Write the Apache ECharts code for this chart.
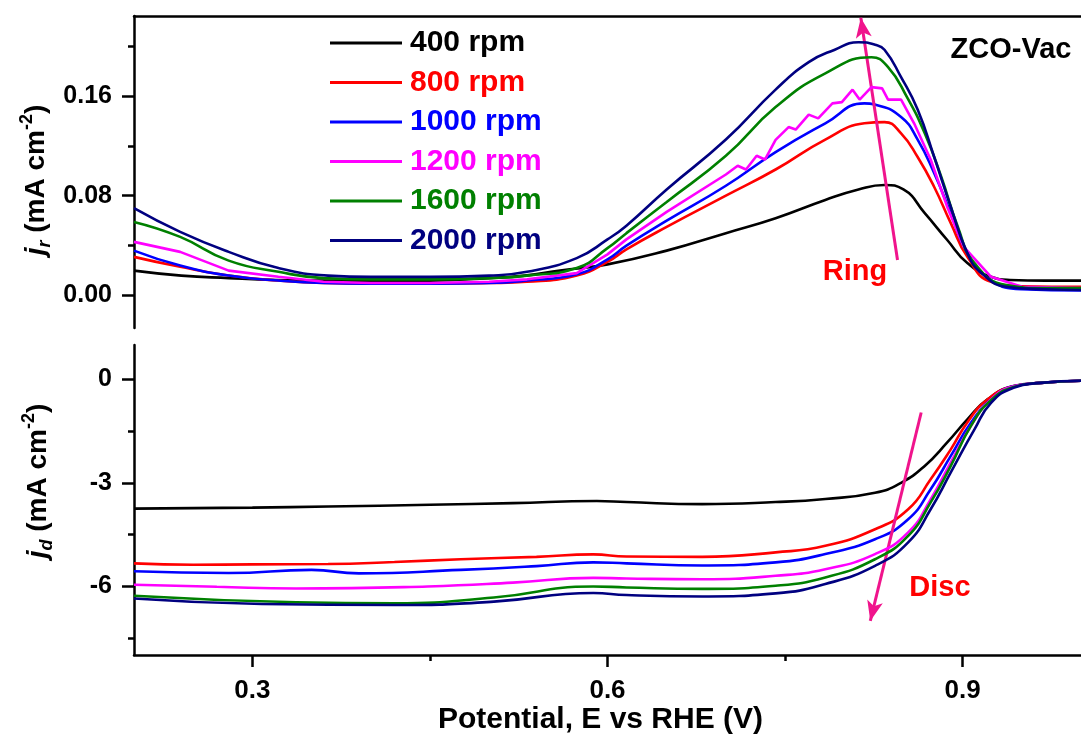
<!DOCTYPE html>
<html>
<head>
<meta charset="utf-8">
<script src="https://cdn.jsdelivr.net/npm/echarts@6/dist/echarts.min.js"></script>
<style>
html,body{margin:0;padding:0;background:#fff;}
#chart{width:1081px;height:745px;}
</style>
</head>
<body>
<div id="chart"></div>
<script>
// ---- data ----
const seriesNames = ['400 rpm','800 rpm','1000 rpm','1200 rpm','1600 rpm','2000 rpm'];
const seriesColors = ['#000000','#FF0000','#0000FF','#FF00FF','#008000','#000080'];

// Ring current j_r (mA cm-2) vs potential E (V)
const ring400 = [[0.20,0.020],[0.24,0.016],[0.28,0.014],[0.32,0.0125],[0.36,0.012],[0.40,0.0118],[0.45,0.012],[0.50,0.014],[0.53,0.016],[0.56,0.020],[0.60,0.025],[0.65,0.036],[0.70,0.050],[0.742,0.062],[0.784,0.0766],[0.812,0.085],[0.834,0.0886],[0.85,0.085],[0.868,0.066],[0.887,0.0445],[0.904,0.026],[0.924,0.015],[0.94,0.0125],[0.97,0.012],[1.0,0.012]];
const ring800 = [[0.20,0.031],[0.239,0.023],[0.28,0.016],[0.322,0.012],[0.36,0.010],[0.40,0.0095],[0.45,0.0095],[0.50,0.010],[0.532,0.011],[0.574,0.016],[0.60,0.027],[0.616,0.037],[0.65,0.055],[0.70,0.080],[0.742,0.101],[0.784,0.125],[0.817,0.138],[0.834,0.139],[0.848,0.130],[0.862,0.111],[0.876,0.087],[0.890,0.058],[0.904,0.031],[0.924,0.011],[0.95,0.0075],[1.0,0.007]];
const ring1000 = [[0.20,0.036],[0.239,0.024],[0.28,0.016],[0.322,0.012],[0.36,0.010],[0.40,0.0095],[0.45,0.0095],[0.50,0.010],[0.532,0.012],[0.574,0.017],[0.60,0.029],[0.616,0.040],[0.65,0.060],[0.70,0.088],[0.742,0.115],[0.784,0.138],[0.817,0.154],[0.826,0.153],[0.848,0.143],[0.862,0.125],[0.876,0.098],[0.890,0.066],[0.904,0.034],[0.924,0.0124],[0.95,0.005],[1.0,0.004]];
const ring1200 = [[0.20,0.043],[0.239,0.035],[0.28,0.020],[0.322,0.015],[0.36,0.011],[0.40,0.010],[0.45,0.010],[0.50,0.011],[0.532,0.013],[0.574,0.018],[0.60,0.033],[0.616,0.045],[0.65,0.067],[0.70,0.097],[0.71,0.104],[0.717,0.101],[0.726,0.112],[0.733,0.109],[0.742,0.1247],[0.753,0.135],[0.759,0.133],[0.770,0.145],[0.778,0.142],[0.790,0.154],[0.798,0.155],[0.807,0.165],[0.813,0.157],[0.823,0.167],[0.832,0.166],[0.837,0.157],[0.848,0.157],[0.859,0.138],[0.873,0.109],[0.887,0.071],[0.901,0.039],[0.924,0.015],[0.95,0.007],[1.0,0.006]];
const ring1600 = [[0.20,0.059],[0.239,0.047],[0.28,0.028],[0.322,0.019],[0.36,0.014],[0.40,0.013],[0.45,0.013],[0.50,0.014],[0.532,0.016],[0.574,0.022],[0.60,0.038],[0.616,0.050],[0.65,0.075],[0.70,0.112],[0.742,0.151],[0.784,0.178],[0.823,0.191],[0.837,0.183],[0.853,0.159],[0.868,0.130],[0.882,0.095],[0.896,0.055],[0.910,0.026],[0.937,0.0084],[0.97,0.006],[1.0,0.006]];
const ring2000 = [[0.20,0.070],[0.239,0.051],[0.28,0.035],[0.322,0.022],[0.364,0.016],[0.40,0.015],[0.45,0.015],[0.50,0.016],[0.532,0.019],[0.574,0.030],[0.60,0.045],[0.616,0.056],[0.65,0.085],[0.70,0.125],[0.742,0.165],[0.770,0.187],[0.792,0.197],[0.812,0.203],[0.826,0.201],[0.834,0.197],[0.848,0.175],[0.862,0.149],[0.876,0.111],[0.890,0.071],[0.904,0.034],[0.916,0.018],[0.937,0.007],[0.97,0.005],[1.0,0.0044]];

// Disc current j_d (mA cm-2) vs potential E (V)
const disc400 = [[0.20,-3.75],[0.30,-3.72],[0.364,-3.69],[0.45,-3.64],[0.52,-3.59],[0.591,-3.53],[0.616,-3.56],[0.68,-3.62],[0.742,-3.56],[0.784,-3.47],[0.826,-3.29],[0.848,-3.0],[0.868,-2.51],[0.887,-1.83],[0.904,-1.16],[0.921,-0.58],[0.943,-0.19],[0.966,-0.10],[1.0,-0.04]];
const disc800 = [[0.20,-5.34],[0.25,-5.38],[0.30,-5.37],[0.364,-5.36],[0.42,-5.30],[0.476,-5.22],[0.54,-5.15],[0.588,-5.08],[0.616,-5.14],[0.68,-5.15],[0.742,-5.02],[0.784,-4.83],[0.826,-4.35],[0.854,-3.77],[0.873,-2.90],[0.890,-2.03],[0.904,-1.25],[0.921,-0.58],[0.943,-0.20],[0.966,-0.10],[1.0,-0.04]];
const disc1000 = [[0.20,-5.57],[0.28,-5.62],[0.35,-5.53],[0.39,-5.63],[0.476,-5.53],[0.54,-5.42],[0.588,-5.31],[0.616,-5.34],[0.68,-5.40],[0.742,-5.31],[0.784,-5.07],[0.826,-4.64],[0.854,-4.06],[0.873,-3.19],[0.890,-2.22],[0.907,-1.26],[0.924,-0.58],[0.943,-0.20],[0.966,-0.10],[1.0,-0.04]];
const disc1200 = [[0.20,-5.96],[0.27,-6.02],[0.337,-6.07],[0.448,-6.01],[0.52,-5.90],[0.588,-5.76],[0.616,-5.78],[0.68,-5.80],[0.742,-5.70],[0.784,-5.51],[0.826,-5.07],[0.854,-4.44],[0.873,-3.48],[0.890,-2.41],[0.907,-1.35],[0.924,-0.58],[0.943,-0.20],[0.966,-0.10],[1.0,-0.04]];
const disc1600 = [[0.20,-6.28],[0.337,-6.47],[0.42,-6.50],[0.504,-6.33],[0.588,-6.01],[0.616,-6.04],[0.68,-6.08],[0.742,-5.99],[0.784,-5.75],[0.826,-5.22],[0.854,-4.54],[0.873,-3.57],[0.890,-2.51],[0.907,-1.35],[0.924,-0.60],[0.943,-0.22],[0.966,-0.10],[1.0,-0.04]];
const disc2000 = [[0.20,-6.36],[0.308,-6.52],[0.42,-6.55],[0.504,-6.45],[0.588,-6.20],[0.616,-6.26],[0.68,-6.30],[0.742,-6.21],[0.784,-5.94],[0.826,-5.41],[0.854,-4.73],[0.873,-3.77],[0.890,-2.70],[0.910,-1.45],[0.924,-0.68],[0.943,-0.24],[0.966,-0.10],[1.0,-0.04]];

// tick values
const xMajorTicks = [0.3, 0.6, 0.9];
const xMinorTicks = [0.45, 0.75];
const ringMajorTicks = [0, 0.08, 0.16];
const ringMinorTicks = [0.04, 0.12, 0.20];
const discMajorTicks = [-6, -3, 0];
const discMinorTicks = [-7.5, -4.5, -1.5];

// arrow annotations (data coords: [E, j])
const ringArrow = [[0.845, 0.0285], [0.814, 0.2226]];
const discArrow = [[0.865, -0.96], [0.822, -7.01]];

// ---- chart ----
const FONT = '"Liberation Sans", Arial, sans-serif';
const ringData = [ring400, ring800, ring1000, ring1200, ring1600, ring2000];
const discData = [disc400, disc800, disc1000, disc1200, disc1600, disc2000];
const PINK = '#F0148C';

const chart = echarts.init(document.getElementById('chart'), null, {renderer: 'canvas'});

const xRange = {min: 0.2, max: 1.0};
const ringRange = {min: -0.026, max: 0.224};
const discRange = {min: -8, max: 1};

function arrowLine(pts) {
  return {
    silent: true,
    animation: false,
    symbol: ['none', 'arrow'],
    symbolSize: [12, 20],
    label: {show: false},
    lineStyle: {color: PINK, width: 3, type: 'solid'},
    emphasis: {disabled: true},
    data: [[{coord: pts[0]}, {coord: pts[1]}]]
  };
}

const series = [];
ringData.forEach((d, i) => {
  const s = {
    name: seriesNames[i], type: 'line', xAxisIndex: 0, yAxisIndex: 0,
    data: d, showSymbol: false, symbol: 'none',
    smooth: i === 3 ? false : 0.5,
    lineStyle: {color: seriesColors[i], width: 2.6},
    itemStyle: {color: seriesColors[i]},
    emphasis: {disabled: true}, animation: false, z: 2 + i
  };
  if (i === 5) s.markLine = arrowLine(ringArrow);
  series.push(s);
});
discData.forEach((d, i) => {
  const s = {
    name: seriesNames[i], type: 'line', xAxisIndex: 1, yAxisIndex: 2,
    data: d, showSymbol: false, symbol: 'none',
    smooth: 0.5,
    lineStyle: {color: seriesColors[i], width: 2.6},
    itemStyle: {color: seriesColors[i]},
    emphasis: {disabled: true}, animation: false, z: 2 + i
  };
  if (i === 5) s.markLine = arrowLine(discArrow);
  series.push(s);
});

const axisLineStyle = {color: '#000', width: 2.5};
const labelStyle = {color: '#000', fontFamily: FONT, fontWeight: 'bold', fontSize: 25};

const option = {
  backgroundColor: '#fff',
  animation: false,
  textStyle: {fontFamily: FONT},
  grid: [
    {left: 134, right: -7, top: 16, height: 312, containLabel: false},
    {left: 134, right: -7, top: 345, height: 310, containLabel: false}
  ],
  xAxis: [
    {type: 'value', gridIndex: 0, position: 'top', min: xRange.min, max: xRange.max,
     axisLine: {show: true, onZero: false, lineStyle: axisLineStyle},
     axisTick: {show: false}, axisLabel: {show: false}, splitLine: {show: false}},
    {type: 'value', gridIndex: 1, position: 'bottom', min: xRange.min, max: xRange.max,
     axisLine: {show: true, onZero: false, lineStyle: axisLineStyle},
     axisTick: {show: true, inside: false, length: 12, customValues: xMajorTicks, lineStyle: {color: '#000', width: 2.5}},
     axisLabel: Object.assign({show: true, margin: 23, customValues: xMajorTicks, formatter: v => v.toFixed(1)}, labelStyle, {fontSize: 26}),
     splitLine: {show: false},
     name: 'Potential, E vs RHE (V)', nameLocation: 'middle', nameGap: 46,
     nameTextStyle: {color: '#000', fontFamily: FONT, fontWeight: 'bold', fontSize: 30, padding: [0, 14, 0, 0]}},
    {type: 'value', gridIndex: 1, position: 'bottom', min: xRange.min, max: xRange.max,
     axisLine: {show: false, onZero: false},
     axisTick: {show: true, inside: false, length: 6, customValues: xMinorTicks, lineStyle: {color: '#000', width: 2.5}},
     axisLabel: {show: false}, splitLine: {show: false}}
  ],
  yAxis: [
    {type: 'value', gridIndex: 0, min: ringRange.min, max: ringRange.max, position: 'left',
     axisLine: {show: true, onZero: false, lineStyle: axisLineStyle},
     axisTick: {show: true, inside: false, length: 12, customValues: ringMajorTicks, lineStyle: {color: '#000', width: 2.5}},
     axisLabel: Object.assign({show: true, margin: 22, customValues: ringMajorTicks, formatter: v => v.toFixed(2)}, labelStyle),
     splitLine: {show: false}},
    {type: 'value', gridIndex: 0, min: ringRange.min, max: ringRange.max, position: 'left',
     axisLine: {show: false, onZero: false},
     axisTick: {show: true, inside: false, length: 6, customValues: ringMinorTicks, lineStyle: {color: '#000', width: 2.5}},
     axisLabel: {show: false}, splitLine: {show: false}},
    {type: 'value', gridIndex: 1, min: discRange.min, max: discRange.max, position: 'left',
     axisLine: {show: true, onZero: false, lineStyle: axisLineStyle},
     axisTick: {show: true, inside: false, length: 12, customValues: discMajorTicks, lineStyle: {color: '#000', width: 2.5}},
     axisLabel: Object.assign({show: true, margin: 22, customValues: discMajorTicks, formatter: v => String(v)}, labelStyle),
     splitLine: {show: false}},
    {type: 'value', gridIndex: 1, min: discRange.min, max: discRange.max, position: 'left',
     axisLine: {show: false, onZero: false},
     axisTick: {show: true, inside: false, length: 6, customValues: discMinorTicks, lineStyle: {color: '#000', width: 2.5}},
     axisLabel: {show: false}, splitLine: {show: false}}
  ],
  legend: {
    show: true, orient: 'vertical', left: 330, top: 28, padding: 0,
    icon: 'rect', itemWidth: 72, itemHeight: 3, itemGap: 9.5,
    selectedMode: false,
    textStyle: {fontFamily: FONT, fontWeight: 'bold', fontSize: 30, lineHeight: 30, padding: [0, 0, 0, 3]},
    data: seriesNames.map((n, i) => ({name: n, textStyle: {color: seriesColors[i]}, itemStyle: {color: seriesColors[i]}}))
  },
  graphic: [
    {type: 'text', x: 1011, y: 50, silent: true,
     style: {text: 'ZCO-Vac', fill: '#000', font: 'bold 29px ' + FONT, align: 'center', verticalAlign: 'middle'}},
    {type: 'text', x: 855, y: 272, silent: true,
     style: {text: 'Ring', fill: '#FF0000', font: 'bold 29px ' + FONT, align: 'center', verticalAlign: 'middle'}},
    {type: 'text', x: 940, y: 588, silent: true,
     style: {text: 'Disc', fill: '#FF0000', font: 'bold 29px ' + FONT, align: 'center', verticalAlign: 'middle'}},
    {type: 'text', x: 36, y: 180, rotation: Math.PI / 2, silent: true,
     style: {
       text: '{i|j}{sub|r}{n| (mA cm}{sup|-2}{n|)}', align: 'center', verticalAlign: 'middle',
       rich: {
         i: {fontFamily: FONT, fontWeight: 'bold', fontStyle: 'italic', fontSize: 28, fill: '#000', lineHeight: 36},
         n: {fontFamily: FONT, fontWeight: 'bold', fontSize: 28, fill: '#000', lineHeight: 36},
         sub: {fontFamily: FONT, fontWeight: 'bold', fontStyle: 'italic', fontSize: 18, fill: '#000', lineHeight: 36, verticalAlign: 'bottom'},
         sup: {fontFamily: FONT, fontWeight: 'bold', fontSize: 18, fill: '#000', lineHeight: 36, verticalAlign: 'top'}
       }
     }},
    {type: 'text', x: 38, y: 481, rotation: Math.PI / 2, silent: true,
     style: {
       text: '{i|j}{sub|d}{n| (mA cm}{sup|-2}{n|)}', align: 'center', verticalAlign: 'middle',
       rich: {
         i: {fontFamily: FONT, fontWeight: 'bold', fontStyle: 'italic', fontSize: 28, fill: '#000', lineHeight: 36},
         n: {fontFamily: FONT, fontWeight: 'bold', fontSize: 28, fill: '#000', lineHeight: 36},
         sub: {fontFamily: FONT, fontWeight: 'bold', fontStyle: 'italic', fontSize: 18, fill: '#000', lineHeight: 36, verticalAlign: 'bottom'},
         sup: {fontFamily: FONT, fontWeight: 'bold', fontSize: 18, fill: '#000', lineHeight: 36, verticalAlign: 'top'}
       }
     }}
  ],
  series: series
};

chart.setOption(option);
</script>
</body>
</html>
